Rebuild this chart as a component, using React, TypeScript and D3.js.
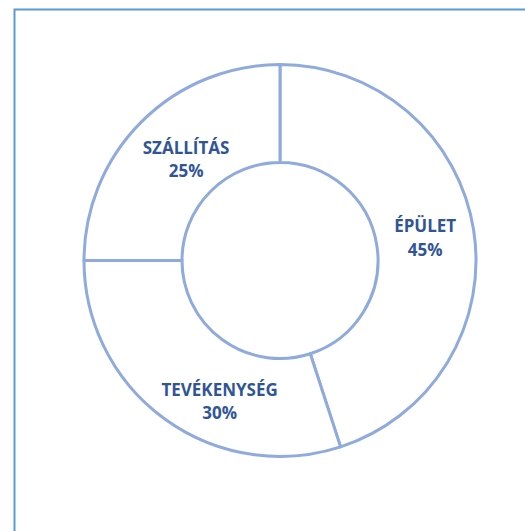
import { useEffect, useRef } from 'react';
import * as d3 from 'd3';

const categories = ['ÉPÜLET', 'TEVÉKENYSÉG', 'SZÁLLÍTÁS'];
const shares = [45, 30, 25];
const percentLabels = ['45%', '30%', '25%'];

const WIDTH = 525;
const HEIGHT = 531;

export default function App() {
  const svgRef = useRef<SVGSVGElement>(null);

  useEffect(() => {
    if (!svgRef.current) return;
    const svg = d3.select(svgRef.current);
    svg.selectAll('*').remove();

    // chart area frame (runs off the right and bottom edge in the original)
    svg.append('rect')
      .attr('x', 14.5)
      .attr('y', 9.5)
      .attr('width', 700)
      .attr('height', 700)
      .attr('fill', '#fff')
      .attr('stroke', '#5b9bd5')
      .attr('stroke-width', 2);

    const cx = 280;
    const cy = 260.5;
    const outer = 196;
    const inner = 98;

    const rows = categories.map((c, i) => ({ name: c, value: shares[i], label: percentLabels[i] }));

    const pie = d3.pie<typeof rows[number]>()
      .value(d => d.value)
      .sort(null);

    const arc = d3.arc<d3.PieArcDatum<typeof rows[number]>>()
      .innerRadius(inner)
      .outerRadius(outer);

    const g = svg.append('g').attr('transform', `translate(${cx},${cy})`);
    const arcs = pie(rows);

    g.selectAll('path')
      .data(arcs)
      .enter()
      .append('path')
      .attr('d', arc)
      .attr('fill', '#fff')
      .attr('stroke', '#8faadc')
      .attr('stroke-width', 3)
      .attr('stroke-linejoin', 'round');

    // label nudges, Excel moves a couple of them off the centroid
    const nudge = [[0, 0], [26, 22], [10, 2.5]];

    const labels = g.selectAll('.lbl')
      .data(arcs)
      .enter()
      .append('text')
      .attr('class', 'lbl')
      .attr('text-anchor', 'middle')
      .attr('fill', '#2f5597')
      .style('font-family', '"Open Sans", Lato, sans-serif')
      .style('font-weight', 700)
      .style('font-size', '17px');

    labels.each(function (d, i) {
      const [x, y] = arc.centroid(d);
      const tx = x + nudge[i][0];
      const ty = y + nudge[i][1];
      const t = d3.select(this);
      t.append('tspan').attr('x', tx).attr('y', ty - 5.5).text(d.data.name);
      t.append('tspan').attr('x', tx).attr('y', ty + 18).text(d.data.label);
    });
  }, []);

  return (
    <svg
      ref={svgRef}
      width={WIDTH}
      height={HEIGHT}
      style={{ position: 'absolute', left: 0, top: 0, background: '#fff' }}
    />
  );
}
